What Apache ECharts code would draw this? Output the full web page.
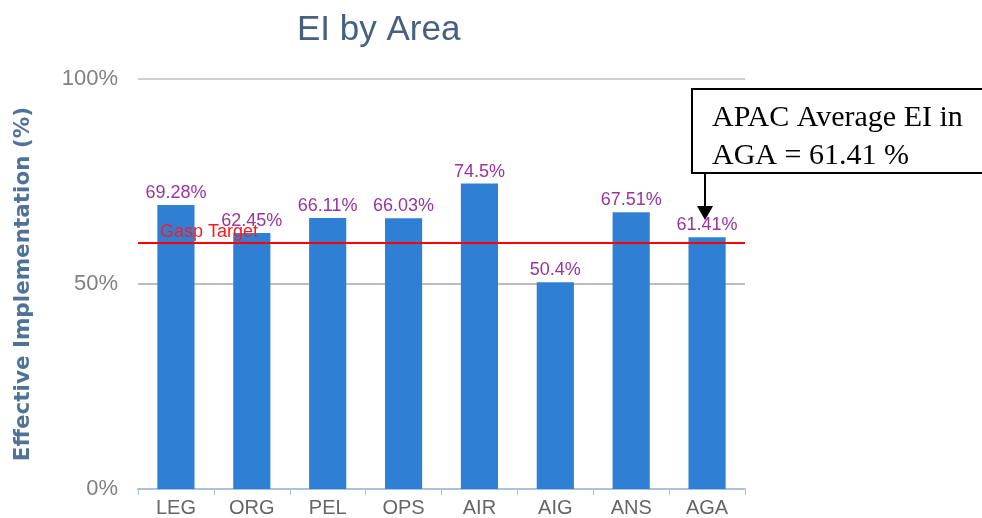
<!DOCTYPE html>
<html>
<head>
<meta charset="utf-8">
<script src="https://cdn.jsdelivr.net/npm/echarts@6/dist/echarts.min.js"></script>
<style>
  html,body{margin:0;padding:0;background:#fff;}
  #chart{width:982px;height:518px;}
</style>
</head>
<body>
<div id="chart"></div>
<script>
// data
const areas = ['LEG', 'ORG', 'PEL', 'OPS', 'AIR', 'AIG', 'ANS', 'AGA'];
const eiValues = [69.28, 62.45, 66.11, 66.03, 74.5, 50.4, 67.51, 61.41];
const gaspTarget = 60;
const yTicks = [0, 50, 100];

const chart = echarts.init(document.getElementById('chart'));

const option = {
  animation: false,
  title: {
    text: 'EI by Area',
    left: 292,
    top: 8,
    textStyle: {
      fontFamily: 'Liberation Sans, Arial',
      fontSize: 35,
      fontWeight: 'normal',
      color: '#46617f'
    }
  },
  grid: {
    left: 138,
    right: 237,
    top: 79,
    bottom: 28
  },
  xAxis: {
    type: 'category',
    data: areas,
    axisLine: { show: true, lineStyle: { color: '#a9c3de', width: 2 } },
    axisTick: { show: true, alignWithLabel: false, length: 6, lineStyle: { color: '#a9c3de' } },
    axisLabel: {
      color: '#666',
      fontSize: 20,
      fontFamily: 'Liberation Sans, Arial',
      margin: 9
    }
  },
  yAxis: {
    type: 'value',
    min: yTicks[0],
    max: yTicks[yTicks.length - 1],
    interval: 50,
    name: 'Effective Implementation (%)',
    nameLocation: 'middle',
    nameGap: 104,
    nameTextStyle: {
      color: '#4f7397',
      fontSize: 21.5,
      fontWeight: 'bold',
      fontFamily: 'DejaVu Sans, Verdana'
    },
    axisLine: { show: false },
    axisTick: { show: false },
    axisLabel: {
      formatter: '{value}%',
      color: '#808080',
      fontSize: 22,
      fontFamily: 'Liberation Sans, Arial',
      margin: 20
    },
    splitLine: {
      lineStyle: { color: ['#a9c3de', '#bdbdbd', '#cfcfcf'], width: 2 }
    }
  },
  series: [{
    name: 'EI',
    type: 'bar',
    data: eiValues,
    barWidth: '49%',
    itemStyle: { color: '#2f80d4' },
    label: {
      show: true,
      position: 'top',
      distance: 3,
      formatter: '{c}%',
      color: '#9a339e',
      fontSize: 18,
      fontFamily: 'Liberation Sans, Arial'
    },
    markLine: {
      silent: true,
      symbol: 'none',
      lineStyle: { color: '#ff0000', width: 2, type: 'solid' },
      label: {
        show: true,
        position: 'insideStartTop',
        formatter: 'Gasp Target',
        color: '#ff1a1a',
        fontSize: 18,
        fontFamily: 'Liberation Sans, Arial',
        distance: [22, 2]
      },
      data: [{ yAxis: gaspTarget }]
    }
  }],
  graphic: [
    {
      type: 'rect',
      left: 691,
      top: 88,
      shape: { width: 292, height: 84 },
      style: { fill: '#fff', stroke: '#000', lineWidth: 2 },
      z: 10
    },
    {
      type: 'text',
      left: 712,
      top: 99,
      style: {
        text: 'APAC Average EI in\nAGA = 61.41 %',
        font: '30px "Liberation Serif", "Times New Roman", serif',
        lineHeight: 38,
        fill: '#000'
      },
      z: 11
    },
    {
      type: 'line',
      shape: { x1: 705, y1: 172, x2: 705, y2: 208 },
      style: { stroke: '#000', lineWidth: 2 },
      z: 10
    },
    {
      type: 'polygon',
      shape: { points: [[697, 206], [713, 206], [705, 220]] },
      style: { fill: '#000' },
      z: 10
    }
  ]
};

chart.setOption(option);
</script>
</body>
</html>
